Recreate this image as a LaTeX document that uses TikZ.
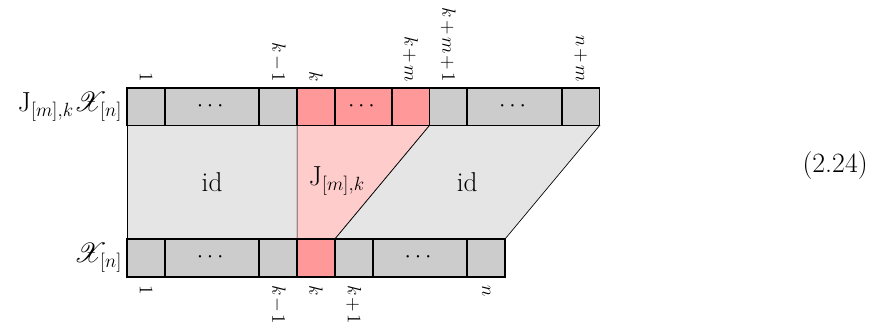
\documentclass[tikz,border=0pt]{standalone}
\usepackage{amsmath,amssymb,mathrsfs}
\newcommand{\tightops}{\medmuskip=2mu plus 1mu minus 1mu}
\begin{document}
\begin{tikzpicture}[x=1cm,y=1cm,
  cellg/.style={draw=black,line width=1.3pt,fill=gray!40},
  cellr/.style={draw=black,line width=1.3pt,fill=red!40},
  region/.style={draw=black,line width=0.5pt},
  toplab/.style={rotate=-90,anchor=east,inner sep=0pt,font=\fontsize{14}{16}\selectfont\tightops},
  botlab/.style={rotate=-90,anchor=west,inner sep=0pt,font=\fontsize{13.5}{16}\selectfont\tightops},
  mainlab/.style={font=\fontsize{20.5}{24}\selectfont},
  dotsnode/.style={inner sep=0pt,font=\fontsize{18}{21}\selectfont}]
\useasboundingbox (-3.36,0) rectangle (19.97,8.57);
% middle regions
\path[region,fill=gray!20] (0,2.25) rectangle (4.5,5.25);
\path[region,fill=red!20] (4.5,2.25) -- (4.5,5.25) -- (8,5.25) -- (5.5,2.25) -- cycle;
\path[region,fill=gray!20] (5.5,2.25) -- (8,5.25) -- (12.5,5.25) -- (10,2.25) -- cycle;
\node[mainlab] (idl) at (2.25,3.75) {id};
\node[mainlab] (jl) at (5.55,3.78) {$\mathrm{J}_{[m],k}$};
\node[mainlab] (idr) at (9,3.75) {id};
% top row
\draw[cellg] (0,5.25) rectangle (1,6.25);
\draw[cellg] (1,5.25) rectangle (3.5,6.25);
\draw[cellg] (3.5,5.25) rectangle (4.5,6.25);
\draw[cellr] (4.5,5.25) rectangle (5.5,6.25);
\draw[cellr] (5.5,5.25) rectangle (7,6.25);
\draw[cellr] (7,5.25) rectangle (8,6.25);
\draw[cellg] (8,5.25) rectangle (9,6.25);
\draw[cellg] (9,5.25) rectangle (11.5,6.25);
\draw[cellg] (11.5,5.25) rectangle (12.5,6.25);
\node[dotsnode] (td1) at (2.25,5.75) {$\cdots$};
\node[dotsnode] (td2) at (6.25,5.75) {$\cdots$};
\node[dotsnode] (td3) at (10.25,5.75) {$\cdots$};
% bottom row
\draw[cellg] (0,1.25) rectangle (1,2.25);
\draw[cellg] (1,1.25) rectangle (3.5,2.25);
\draw[cellg] (3.5,1.25) rectangle (4.5,2.25);
\draw[cellr] (4.5,1.25) rectangle (5.5,2.25);
\draw[cellg] (5.5,1.25) rectangle (6.5,2.25);
\draw[cellg] (6.5,1.25) rectangle (9,2.25);
\draw[cellg] (9,1.25) rectangle (10,2.25);
\node[dotsnode] (bd1) at (2.25,1.75) {$\cdots$};
\node[dotsnode] (bd2) at (7.75,1.75) {$\cdots$};
% top labels
\node[toplab] (t1) at (0.5,6.4) {$1$};
\node[toplab] (t2) at (4,6.4) {$k-1$};
\node[toplab] (t3) at (5,6.4) {$k$};
\node[toplab] (t4) at (7.5,6.4) {$k+m$};
\node[toplab] (t5) at (8.5,6.4) {$k+m+1$};
\node[toplab] (t6) at (12,6.4) {$n+m$};
% bottom labels
\node[botlab] (b1) at (0.5,1.03) {$1$};
\node[botlab] (b2) at (4,1.03) {$k-1$};
\node[botlab] (b3) at (5,1.03) {$k$};
\node[botlab] (b4) at (6,1.03) {$k+1$};
\node[botlab] (b5) at (9.5,1.03) {$n$};
% row labels
\node[mainlab,anchor=east,inner sep=0pt] (rt) at (-0.12,5.75) {$\mathrm{J}_{[m],k}\mathscr{X}_{[n]}$};
\node[mainlab,anchor=east,inner sep=0pt] (rb) at (-0.12,1.75) {$\mathscr{X}_{[n]}$};
% equation number
\node[font=\fontsize{21}{25}\selectfont] (eq) at (18.73,4.2) {(2.24)};
\end{tikzpicture}
\end{document}
